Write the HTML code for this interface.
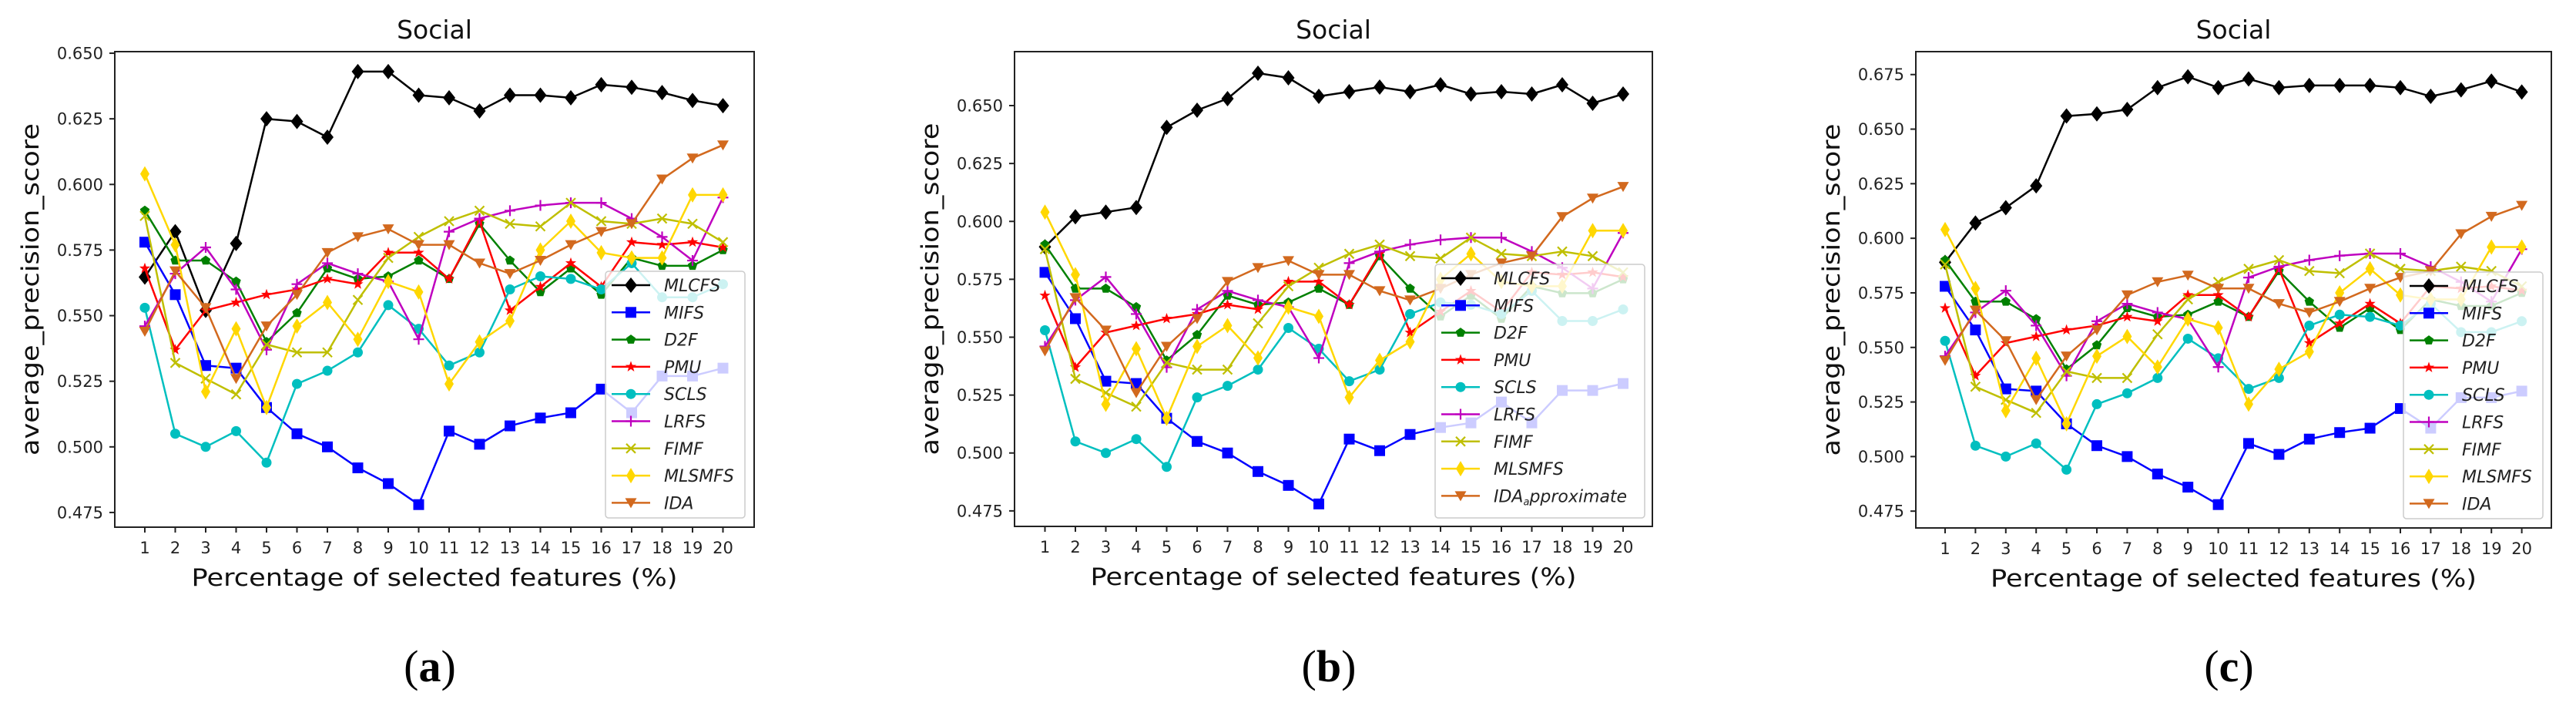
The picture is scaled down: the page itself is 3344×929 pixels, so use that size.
<!DOCTYPE html>
<html><head><meta charset="utf-8"><style>
html,body{margin:0;padding:0;background:#fff;}
svg{display:block;}
text{font-family:"DejaVu Sans","Liberation Sans",sans-serif;}
</style></head><body>
<svg id="fig" width="3344" height="929" viewBox="0 0 3344 929" xmlns="http://www.w3.org/2000/svg"></svg>
<script>
const xCategories = [1,2,3,4,5,6,7,8,9,10,11,12,13,14,15,16,17,18,19,20];
const seriesNames = ["MLCFS","MIFS","D2F","PMU","SCLS","LRFS","FIMF","MLSMFS","IDA"];
const mlcfsA = [0.5647,0.582,0.552,0.5775,0.625,0.624,0.618,0.643,0.643,0.634,0.633,0.628,0.634,0.634,0.633,0.638,0.637,0.635,0.632,0.630];
const mlcfsB = [0.589,0.602,0.604,0.606,0.6406,0.648,0.653,0.664,0.662,0.654,0.656,0.658,0.656,0.659,0.655,0.656,0.655,0.659,0.651,0.655];
const mlcfsC = [0.589,0.607,0.614,0.624,0.656,0.657,0.659,0.669,0.674,0.669,0.673,0.669,0.670,0.670,0.670,0.669,0.665,0.668,0.672,0.667];
const mifs = [0.578,0.558,0.531,0.530,0.515,0.505,0.500,0.492,0.486,0.478,0.506,0.501,0.508,0.511,0.513,0.522,0.513,0.527,0.527,0.530];
const d2f = [0.590,0.571,0.571,0.563,0.540,0.551,0.568,0.564,0.565,0.571,0.564,0.585,0.571,0.559,0.568,0.558,0.572,0.569,0.569,0.575];
const pmu = [0.568,0.537,0.552,0.555,0.558,0.560,0.564,0.562,0.574,0.574,0.564,0.586,0.552,0.561,0.570,0.561,0.578,0.577,0.578,0.576];
const scls = [0.553,0.505,0.500,0.506,0.494,0.524,0.529,0.536,0.554,0.545,0.531,0.536,0.560,0.565,0.564,0.560,0.570,0.557,0.557,0.562];
const lrfs = [0.546,0.566,0.576,0.560,0.537,0.562,0.570,0.566,0.563,0.541,0.582,0.587,0.590,0.592,0.593,0.593,0.587,0.580,0.571,0.595];
const fimf = [0.588,0.532,0.526,0.520,0.539,0.536,0.536,0.556,0.572,0.580,0.586,0.590,0.585,0.584,0.593,0.586,0.585,0.587,0.585,0.578];
const mlsmfs = [0.604,0.577,0.521,0.545,0.515,0.546,0.555,0.541,0.563,0.559,0.524,0.540,0.548,0.575,0.586,0.574,0.572,0.572,0.596,0.596];
const ida = [0.544,0.567,0.553,0.526,0.546,0.558,0.574,0.580,0.583,0.577,0.577,0.570,0.566,0.571,0.577,0.582,0.585,0.602,0.610,0.615];
const yTicksAB = [0.475,0.500,0.525,0.550,0.575,0.600,0.625,0.650];
const yTicksC = [0.475,0.500,0.525,0.550,0.575,0.600,0.625,0.650,0.675];

const NS="http://www.w3.org/2000/svg";
const svg=document.getElementById('fig');
function mk(tag,attrs,parent){const e=document.createElementNS(NS,tag);for(const k in attrs)e.setAttribute(k,attrs[k]);(parent||svg).appendChild(e);return e;}
const colors=["#000000","#0000ff","#008000","#ff0000","#00bfbf","#bf00bf","#bfbf00","#ffd700","#d2691e"];
const markers=["D","s","p","*","o","+","x","d","v"];

function drawMarker(g,type,cx,cy,col){
  let e;
  if(type==="D"){e=mk('polygon',{points:`${cx},${cy-10} ${cx+8},${cy} ${cx},${cy+10} ${cx-8},${cy}`,fill:col},g);}
  else if(type==="d"){e=mk('polygon',{points:`${cx},${cy-10} ${cx+6},${cy} ${cx},${cy+10} ${cx-6},${cy}`,fill:col},g);}
  else if(type==="s"){e=mk('rect',{x:cx-7,y:cy-7,width:14,height:14,fill:col},g);}
  else if(type==="o"){e=mk('circle',{cx:cx,cy:cy,r:6.5,fill:col},g);}
  else if(type==="p"){let p=[];for(let i=0;i<5;i++){const a=-Math.PI/2+i*2*Math.PI/5;p.push((cx+6.5*Math.cos(a)).toFixed(1)+','+(cy+6.5*Math.sin(a)).toFixed(1));}e=mk('polygon',{points:p.join(' '),fill:col},g);}
  else if(type==="*"){let p=[];for(let i=0;i<10;i++){const a=-Math.PI/2+i*Math.PI/5;const r=i%2?3:7.5;p.push((cx+r*Math.cos(a)).toFixed(1)+','+(cy+r*Math.sin(a)).toFixed(1));}e=mk('polygon',{points:p.join(' '),fill:col},g);}
  else if(type==="v"){e=mk('polygon',{points:`${cx-7.5},${cy-6} ${cx+7.5},${cy-6} ${cx},${cy+7}`,fill:col},g);}
  else if(type==="+"){e=mk('path',{d:`M${cx-7},${cy}H${cx+7}M${cx},${cy-7}V${cy+7}`,stroke:col,'stroke-width':2.2,fill:'none'},g);}
  else if(type==="x"){e=mk('path',{d:`M${cx-6},${cy-6}L${cx+6},${cy+6}M${cx-6},${cy+6}L${cx+6},${cy-6}`,stroke:col,'stroke-width':2.2,fill:'none'},g);}
  
  
  return e;
}

function drawChart(c){
  const g=mk('g',{});
  
  
  const step=c.step;
  const xS=v=>c.x1+(v-1)*step;
  const yS=v=>c.bottom-(v-c.ymin)/(c.ymax-c.ymin)*(c.bottom-c.top);
  const cx=(c.left+c.right)/2;
  const t=mk('text',{x:cx,y:50,'font-size':33,'text-anchor':'middle',fill:'#111'},g);t.textContent='Social';
  
  
  const all=[c.mlcfs,mifs,d2f,pmu,scls,lrfs,fimf,mlsmfs,ida];
  all.forEach((vals,si)=>{
    const sg=mk('g',{},g);
    
    
    const pts=vals.map((v,i)=>xS(xCategories[i]).toFixed(1)+','+yS(v).toFixed(1)).join(' ');
    const pl=mk('polyline',{points:pts,fill:'none',stroke:colors[si],'stroke-width':2.5,'stroke-linejoin':'round'},sg);
    
    
    vals.forEach((v,i)=>drawMarker(sg,markers[si],xS(xCategories[i]),yS(v),colors[si]));
  });
  const fr=mk('rect',{x:c.left,y:c.top,width:c.right-c.left,height:c.bottom-c.top,fill:'none',stroke:'#222','stroke-width':2},g);
  
  
  c.yTicks.forEach(v=>{
    const y=yS(v);
    mk('line',{x1:c.left-7,x2:c.left,y1:y,y2:y,stroke:'#222','stroke-width':2},g);
    const tl=mk('text',{x:c.left-15,y:y+7.5,'font-size':21,'text-anchor':'end',fill:'#222'},g);
    tl.textContent=v.toFixed(3);
    
    
  });
  xCategories.forEach(v=>{
    const x=xS(v);
    mk('line',{x1:x,x2:x,y1:c.bottom,y2:c.bottom+7,stroke:'#222','stroke-width':2},g);
    const tl=mk('text',{x:x,y:c.bottom+34,'font-size':21,'text-anchor':'middle',fill:'#222'},g);
    tl.textContent=String(v);
    
    
  });
  const xl=mk('text',{x:cx,y:c.bottom+76,'font-size':31,'text-anchor':'middle',fill:'#111',textLength:631,lengthAdjust:'spacingAndGlyphs'},g);
  xl.textContent='Percentage of selected features (%)';
  
  
  const ycx=c.left-110, ycy=(c.top+c.bottom)/2;
  const yl=mk('text',{x:ycx,y:ycy,'font-size':31,'text-anchor':'middle',fill:'#111',transform:`rotate(-90 ${ycx} ${ycy}) translate(0 11)`,textLength:431,lengthAdjust:'spacingAndGlyphs'},g);
  yl.textContent='average_precision_score';
  
  
  const pl=mk('text',{x:cx-6,y:884,'font-size':58,'text-anchor':'middle',fill:'#000',style:'font-family:"Liberation Serif",serif'},g);
  pl.innerHTML='(<tspan font-weight="bold">'+c.id+'</tspan>)';
  
  
  const lg=mk('g',{},g);
  
  
  mk('rect',{x:c.lg[0],y:c.lg[1],width:c.lg[2],height:c.lg[3],rx:4,fill:'#fff','fill-opacity':0.8,stroke:'#ccc','stroke-width':1.5},lg);
  seriesNames.forEach((n,i)=>{
    const ey=c.lg[1]+18+i*35.3;
    const eg=mk('g',{},lg);
    
    
    mk('line',{x1:c.lg[0]+8,x2:c.lg[0]+58,y1:ey,y2:ey,stroke:colors[i],'stroke-width':2.5},eg);
    drawMarker(eg,markers[i],c.lg[0]+33,ey,colors[i]);
    const lt=mk('text',{x:c.lg[0]+76,y:ey+8,'font-size':22,'font-style':'italic',fill:'#222'},eg);
    if(i===8 && c.id==='b'){lt.innerHTML='IDA<tspan font-size="13" dy="4">a</tspan><tspan dy="-4">pproximate</tspan>';}
    else lt.textContent=n;
  });
}

drawChart({id:'a',left:149,right:979,top:67,bottom:684,x1:188,step:39.5,ymin:0.4694,ymax:0.6506,yTicks:yTicksAB,mlcfs:mlcfsA,lg:[786,352,181,320]});
drawChart({id:'b',left:1317,right:2145,top:67,bottom:683,x1:1356.5,step:39.5,ymin:0.4683,ymax:0.6733,yTicks:yTicksAB,mlcfs:mlcfsB,lg:[1863,343,272,329]});
drawChart({id:'c',left:2487,right:3312,top:67,bottom:685,x1:2525,step:39.4,ymin:0.4673,ymax:0.6855,yTicks:yTicksC,mlcfs:mlcfsC,lg:[3120,353,181,320]});
</script>
</body></html>
